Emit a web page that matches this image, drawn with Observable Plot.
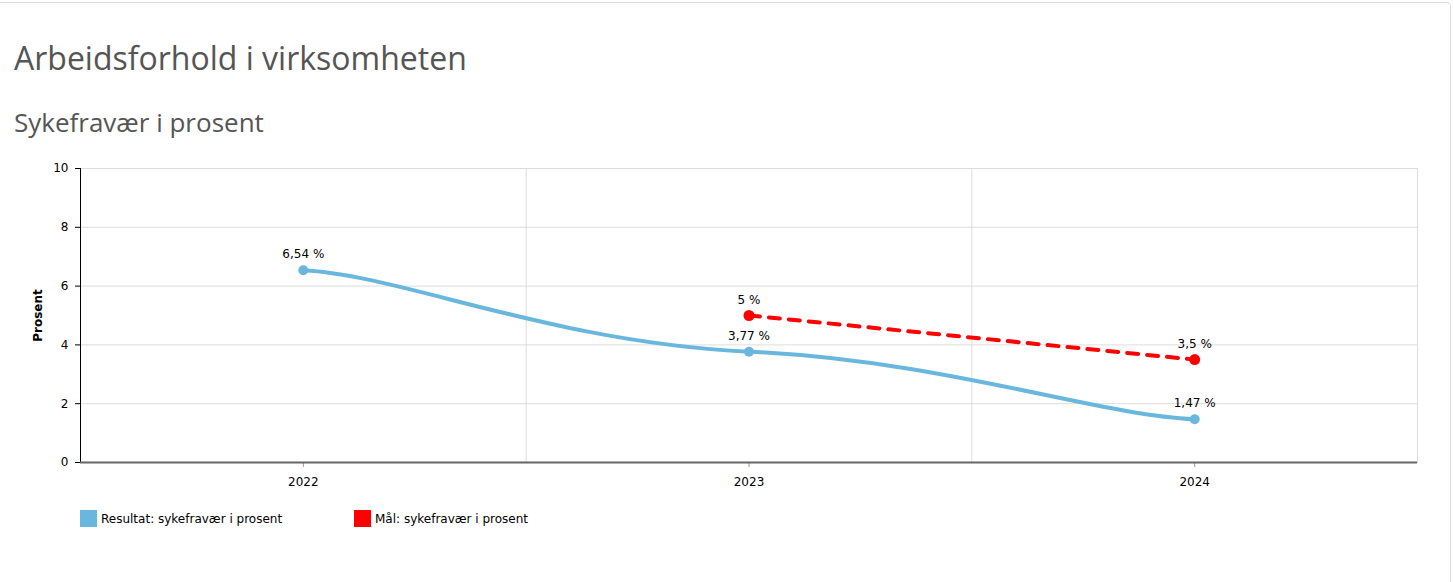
<!DOCTYPE html>
<html>
<head>
<meta charset="utf-8">
<script src="https://cdn.jsdelivr.net/npm/d3@7"></script>
<script src="https://cdn.jsdelivr.net/npm/@observablehq/plot@0.6"></script>
<style>
  html, body { margin: 0; padding: 0; background: #fff; overflow: hidden; }
  body { width: 1453px; height: 582px; position: relative; }
  .card { position: absolute; left: -10px; top: 2px; width: 1461px; height: 700px;
          border: 1px solid #ddd; border-radius: 4px; box-sizing: border-box; }
  .title { position: absolute; left: 14px; top: 41.6px; font-family: "Open Sans"; font-size: 32px;
           line-height: 1; color: #555; white-space: nowrap; }
  .subtitle { position: absolute; left: 14px; top: 109px; font-family: "Open Sans"; font-size: 26px;
              line-height: 1; color: #555; white-space: nowrap; }
  #chart { position: absolute; left: 0; top: 150px; }
  .legend { position: absolute; top: 510px; left: 80px; display: flex; align-items: center;
            font-family: "DejaVu Sans"; font-size: 12px; color: #000; }
  .legend .item { display: flex; align-items: center; height: 17px; }
  .legend .sw { width: 17px; height: 17px; margin-right: 4px; }
  #chart g[aria-label="x-axis tick"], #chart g[aria-label="x-axis"] line { stroke: #999; }
</style>
</head>
<body>
<div class="card"></div>
<div class="title">Arbeidsforhold i virksomheten</div>
<div class="subtitle">Sykefravær i prosent</div>
<div id="chart"></div>
<div class="legend" id="legend"></div>
<script>
// ---- data ----
const years = [2022, 2023, 2024];
const resultValues = [6.54, 3.77, 1.47];
const goalYears = [2023, 2024];
const goalValues = [5, 3.5];
const yTicks = [0, 2, 4, 6, 8, 10];
const seriesNames = ["Resultat: sykefravær i prosent", "Mål: sykefravær i prosent"];
const seriesColors = ["#69b7dd", "#ff0000"];
const yLabel = "Prosent";

const resultData = years.map((year, i) => ({year, value: resultValues[i]}));
const goalData = goalYears.map((year, i) => ({year, value: goalValues[i]}));
const fmt = v => String(v).replace(".", ",") + " %";
const bandEdges = years.slice(1).map(y => y - 0.5);
const xDomain = [years[0] - 0.5, years[years.length - 1] + 0.5];

// smooth curve with separate horizontal / vertical tension
function tensionCurve(kx, ky) {
  return function(context) {
    let pts = [];
    return {
      areaStart() {}, areaEnd() {},
      lineStart() { pts = []; },
      point(x, y) { pts.push([+x, +y]); },
      lineEnd() {
        const n = pts.length;
        if (!n) return;
        context.moveTo(pts[0][0], pts[0][1]);
        for (let i = 0; i < n - 1; i++) {
          const p0 = pts[Math.max(0, i - 1)], p1 = pts[i], p2 = pts[i + 1], p3 = pts[Math.min(n - 1, i + 2)];
          context.bezierCurveTo(
            p1[0] + (p2[0] - p0[0]) * kx, p1[1] + (p2[1] - p0[1]) * ky,
            p2[0] - (p3[0] - p1[0]) * kx, p2[1] - (p3[1] - p1[1]) * ky,
            p2[0], p2[1]);
        }
      }
    };
  };
}

const chart = Plot.plot({
  width: 1453,
  height: 360,
  marginTop: 18,
  marginBottom: 48,
  marginLeft: 80,
  marginRight: 36,
  style: {fontFamily: "DejaVu Sans", fontSize: "12px", color: "#000", background: "transparent", overflow: "visible"},
  x: {type: "linear", domain: xDomain, ticks: years, tickFormat: d => String(d), tickSize: 5, tickPadding: 10, label: null},
  y: {domain: [0, 10], ticks: yTicks, tickSize: 5, tickPadding: 7, label: null},
  marks: [
    Plot.frame({stroke: "#ddd"}),
    Plot.ruleY(yTicks, {stroke: "#ddd"}),
    Plot.ruleX(bandEdges, {stroke: "#ddd"}),
    Plot.ruleX([xDomain[0]], {stroke: "#000", strokeWidth: 1}),
    Plot.ruleY([0], {stroke: "#666", strokeWidth: 2}),
    Plot.line(resultData, {x: "year", y: "value", stroke: seriesColors[0], strokeWidth: 4, curve: tensionCurve(0.22, 0.06)}),
    Plot.dot(resultData, {x: "year", y: "value", fill: seriesColors[0], r: 5}),
    Plot.line(goalData, {x: "year", y: "value", stroke: seriesColors[1], strokeWidth: 4, strokeDasharray: "11,9"}),
    Plot.dot(goalData, {x: "year", y: "value", fill: seriesColors[1], r: 5.5}),
    Plot.text(resultData, {x: "year", y: "value", text: d => fmt(d.value), dy: -12, lineAnchor: "bottom", fontSize: 12, fill: "#000"}),
    Plot.text(goalData, {x: "year", y: "value", text: d => fmt(d.value), dy: -12, lineAnchor: "bottom", fontSize: 12, fill: "#000"}),
    Plot.text([yLabel], {frameAnchor: "left", dx: -42, rotate: -90, textAnchor: "middle", lineAnchor: "middle", fontWeight: "bold", fontSize: 12, fill: "#000"})
  ]
});
document.getElementById("chart").appendChild(chart);

const legend = document.getElementById("legend");
seriesNames.forEach((name, i) => {
  const item = document.createElement("div");
  item.className = "item";
  item.style.width = i === 0 ? "274px" : "auto";
  const sw = document.createElement("div");
  sw.className = "sw";
  sw.style.background = seriesColors[i];
  const label = document.createElement("span");
  label.textContent = name;
  item.appendChild(sw);
  item.appendChild(label);
  legend.appendChild(item);
});
</script>
</body>
</html>
